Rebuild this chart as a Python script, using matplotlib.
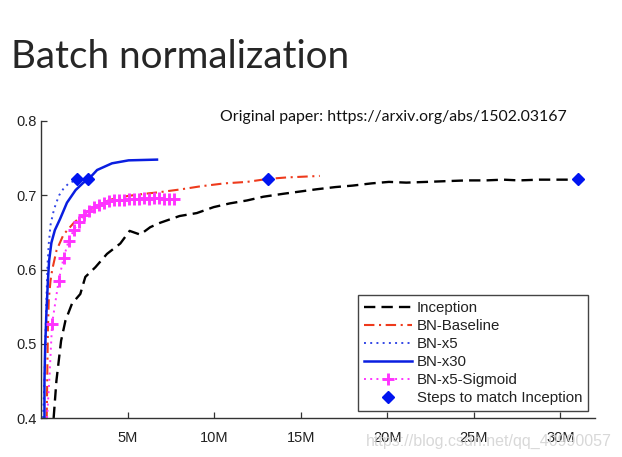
import matplotlib
matplotlib.use("Agg")
import matplotlib.pyplot as plt
from matplotlib.ticker import FuncFormatter, FixedLocator

# ---- data (x in millions of training steps, y = validation accuracy) ----
inception_x = [0.73, 0.89, 1.16, 1.41, 1.79, 2.27, 2.56, 3.14, 3.81, 4.58, 5.12, 5.73,
               6.31, 6.89, 8.0, 9.0, 9.97, 10.9, 11.9, 12.84, 14.0, 14.96, 15.9, 17.0,
               18.0, 19.1, 20.1, 21.1, 22.3, 23.4, 24.6, 25.7, 26.7, 27.6, 28.8, 30.3, 31.0]
inception_y = [0.40, 0.45, 0.504, 0.531, 0.554, 0.567, 0.59, 0.603, 0.621, 0.635, 0.652, 0.647,
               0.657, 0.663, 0.672, 0.676, 0.684, 0.689, 0.693, 0.698, 0.702, 0.705, 0.708, 0.711,
               0.713, 0.716, 0.718, 0.717, 0.718, 0.719, 0.720, 0.720, 0.721, 0.720, 0.721, 0.721, 0.721]

baseline_x = [0.33, 0.37, 0.40, 0.45, 0.55, 0.65, 0.9, 1.3, 1.9, 2.5, 3.2, 4.0, 5.0, 6.0,
              6.8, 8.1, 9.2, 10.6, 11.9, 13.1, 14.2, 16.1]
baseline_y = [0.40, 0.47, 0.52, 0.56, 0.585, 0.60, 0.626, 0.647, 0.663, 0.675, 0.686, 0.694,
              0.699, 0.702, 0.704, 0.708, 0.712, 0.716, 0.718, 0.722, 0.724, 0.726]

x5_x = [0.12, 0.2, 0.25, 0.3, 0.38, 0.45, 0.55, 0.7, 0.85, 1.05, 1.3, 1.6, 2.08]
x5_y = [0.40, 0.45, 0.50, 0.55, 0.608, 0.635, 0.66, 0.676, 0.688, 0.700, 0.709, 0.716, 0.721]

x30_x = [0.2, 0.2, 0.24, 0.31, 0.4, 0.47, 0.6, 0.8, 1.1, 1.5, 2.0, 2.45, 2.72, 3.24, 4.1, 5.06, 6.7]
x30_y = [0.40, 0.45, 0.495, 0.54, 0.585, 0.612, 0.636, 0.653, 0.668, 0.69, 0.707, 0.717,
         0.721, 0.734, 0.743, 0.747, 0.748]

sig_x = [0.35, 0.5, 0.64, 1.02, 1.31, 1.6, 1.89, 2.18, 2.47, 2.76, 3.05, 3.34, 3.63, 3.92,
         4.21, 4.5, 4.79, 5.08, 5.37, 5.66, 5.95, 6.24, 6.53, 6.82, 7.11, 7.4, 7.69]
sig_y = [0.40, 0.46, 0.527, 0.585, 0.616, 0.639, 0.653, 0.664, 0.673, 0.679, 0.684, 0.687,
         0.690, 0.692, 0.693, 0.694, 0.694, 0.695, 0.695, 0.695, 0.696, 0.695, 0.696, 0.696,
         0.695, 0.695, 0.695]

match_x = [2.08, 2.72, 13.14, 31.0]
match_y = [0.722, 0.722, 0.722, 0.722]

x_ticks = [5, 10, 15, 20, 25, 30]
y_ticks = [0.4, 0.5, 0.6, 0.7, 0.8]

title_text = "Batch normalization"
paper_text = "Original paper: https://arxiv.org/abs/1502.03167"
watermark_text = "https://blog.csdn.net/qq_40990057"

# ---- figure ----
fig = plt.figure(figsize=(6.22, 4.57), dpi=100)
fig.patch.set_facecolor("white")

ax_l, ax_r, ax_b, ax_t = 41, 595, 418, 121
W, H = 622, 457
ax = fig.add_axes([ax_l / W, 1 - ax_b / H, (ax_r - ax_l) / W, (ax_b - ax_t) / H])

lab_family = ["Liberation Sans", "DejaVu Sans"]

ax.plot(inception_x, inception_y, color="black", lw=1.7, dashes=(4.8, 2.6),
        label="Inception")
ax.plot(baseline_x, baseline_y, color="#ee3a1c", lw=1.5, dashes=(5, 2.2, 1, 2.2),
        label="BN-Baseline")
ax.plot(x5_x, x5_y, color="#3348e6", lw=1.4, linestyle=(0, (1, 2.2)),
        label="BN-x5")
ax.plot(x30_x, x30_y, color="#0a1ee0", lw=1.8, label="BN-x30")
ax.plot(sig_x, sig_y, color="#ff33ff", lw=1.4, linestyle=(0, (1, 2.2)),
        marker="+", markersize=8.5, markeredgewidth=2.1, markevery=slice(2, None),
        label="BN-x5-Sigmoid")
ax.plot(match_x, match_y, linestyle="none", marker="D", markersize=6.5,
        color="#0014f0", markeredgecolor="#0014f0", label="Steps to match Inception",
        zorder=5)

ax.set_xlim(0, 32)
ax.set_ylim(0.4, 0.8)
ax.xaxis.set_major_locator(FixedLocator(x_ticks))
ax.yaxis.set_major_locator(FixedLocator(y_ticks))
ax.xaxis.set_major_formatter(FuncFormatter(lambda v, p: f"{int(v)}M"))
ax.yaxis.set_major_formatter(FuncFormatter(lambda v, p: f"{v:.1f}"))

for s in ("top", "right"):
    ax.spines[s].set_visible(False)
for s in ("left", "bottom"):
    ax.spines[s].set_color("#333333")
    ax.spines[s].set_linewidth(1.0)

ax.tick_params(direction="in", length=4, width=0.9, color="#333333",
               labelcolor="#222222")
for lbl in ax.get_xticklabels() + ax.get_yticklabels():
    lbl.set_fontfamily(lab_family)
    lbl.set_fontsize(10.5)
ax.tick_params(axis="x", pad=9)
ax.tick_params(axis="y", pad=3)

leg = ax.legend(loc="lower right", bbox_to_anchor=(0.988, 0.024), borderaxespad=0,
                prop={"family": lab_family, "size": 10.8},
                handlelength=3.2, handletextpad=0.3, labelspacing=0.26,
                borderpad=0.4, numpoints=1, fancybox=False, framealpha=1)
leg.get_frame().set_edgecolor("#444444")
leg.get_frame().set_linewidth(1.0)
for t in leg.get_texts():
    t.set_color("#222222")

# slide texts
fig.text(11 / W, 1 - 68.5 / H, title_text, fontsize=27.8, fontfamily=["Lato", "DejaVu Sans"],
         fontweight="normal", color="#262626", ha="left", va="baseline")
fig.text(220 / W, 1 - 121.5 / H, paper_text, fontsize=11.45,
         fontfamily=["Lato", "DejaVu Sans"], color="#111111", ha="left", va="baseline")
fig.text(612 / W, 1 - 446 / H, watermark_text, fontsize=11.5,
         fontfamily=["Liberation Sans", "DejaVu Sans"], color="#d4d4d4", ha="right",
         va="baseline", alpha=0.9)

fig.savefig("out.png", dpi=100, facecolor="white")
